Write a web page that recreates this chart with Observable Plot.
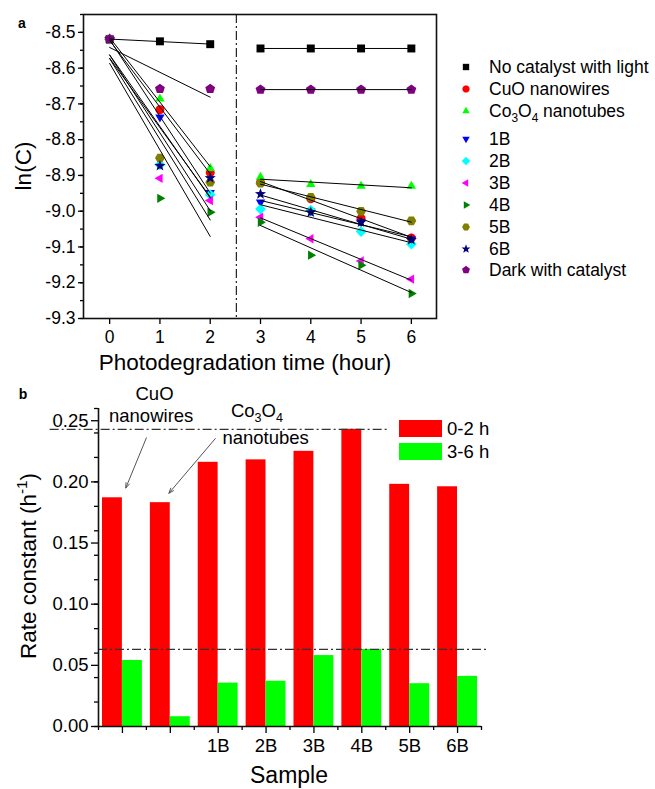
<!DOCTYPE html>
<html><head><meta charset="utf-8">
<script src="https://cdn.jsdelivr.net/npm/d3@7"></script>
<script src="https://cdn.jsdelivr.net/npm/@observablehq/plot@0.6"></script>
<style>
body{margin:0;background:#fff;}
#wrap{width:655px;height:789px;position:relative;overflow:hidden;}
#wrap svg{display:block;overflow:visible;}
</style></head><body><div id="wrap"></div>
<script>
const FONT = '"Liberation Sans", Arial, Helvetica, sans-serif';

// ---------- Panel a data ----------
const seriesNames = ["No catalyst with light","CuO nanowires","Co3O4 nanotubes","1B","2B","3B","4B","5B","6B","Dark with catalyst"];
const seriesColors = ["#000000","#ff0000","#00ff00","#0000ff","#00ffff","#ff00ff","#008000","#808000","#000080","#800080"];
const seriesSymbols = ["square","circle","triangleUp","triangleDown","diamond","triangleLeft","triangleRight","hexagon","star","pentagon"];
const timesA = [0, 1, 2];
const timesB = [3, 4, 5, 6];
const lnC_0_2h = [
  [-8.519, -8.525, -8.533],
  [-8.519, -8.716, -8.892],
  [-8.519, -8.686, -8.880],
  [-8.519, -8.737, -8.948],
  [-8.519, -8.870, -8.954],
  [-8.519, -8.908, -8.970],
  [-8.519, -8.964, -9.003],
  [-8.519, -8.851, -8.919],
  [-8.519, -8.873, -8.907],
  [-8.519, -8.658, -8.658]
];
const lnC_3_6h = [
  [-8.545, -8.545, -8.545, -8.545],
  [-8.920, -8.965, -9.020, -9.075],
  [-8.905, -8.925, -8.930, -8.930],
  [-8.975, -9.000, -9.030, -9.078],
  [-8.994, -8.997, -9.057, -9.092],
  [-9.017, -9.077, -9.139, -9.190],
  [-9.031, -9.123, -9.151, -9.230],
  [-8.922, -8.961, -9.000, -9.027],
  [-8.952, -9.003, -9.031, -9.080],
  [-8.660, -8.660, -8.660, -8.660]
];
const xTicksA = [0, 1, 2, 3, 4, 5, 6];
const yTicksA = [-9.3, -9.2, -9.1, -9.0, -8.9, -8.8, -8.7, -8.6, -8.5];
const lightSwitchTime = 2.52;

// ---------- Panel b data ----------
const samples = ["CuO nanowires","Co3O4 nanotubes","1B","2B","3B","4B","5B","6B"];
const sampleTickLabels = ["","","1B","2B","3B","4B","5B","6B"];
const rate_0_2h = [0.187, 0.183, 0.216, 0.218, 0.225, 0.243, 0.198, 0.196];
const rate_3_6h = [0.054, 0.008, 0.0355, 0.037, 0.058, 0.063, 0.035, 0.041];
const periods = ["0-2 h", "3-6 h"];
const periodColors = ["#ff0000", "#00ff00"];
const yTicksB = [0, 0.05, 0.10, 0.15, 0.20, 0.25];
const noteText = ["CuO", "nanowires", "Co3O4", "nanotubes"];
const noteX = [1.17, 1.10, 3.31, 3.49];
const noteY = [0.272, 0.254, 0.258, 0.236];
const arrowFromX = [1.0, 2.44], arrowFromY = [0.236, 0.2354];
const arrowToX = [0.57, 1.47], arrowToY = [0.195, 0.1907];

// ---------- symbols ----------
function polygon(n, a0, f) {
  return {draw(ctx, size) {
    const R = Math.sqrt(size / Math.PI) * f;
    for (let i = 0; i < n; i++) {
      const a = a0 + i * 2 * Math.PI / n, x = R * Math.cos(a), y = R * Math.sin(a);
      if (i === 0) ctx.moveTo(x, y); else ctx.lineTo(x, y);
    }
    ctx.closePath();
  }};
}
function starSym(f) {
  return {draw(ctx, size) {
    const R = Math.sqrt(size / Math.PI) * f, r = R * 0.42;
    for (let i = 0; i < 10; i++) {
      const a = -Math.PI / 2 + i * Math.PI / 5, rr = i % 2 ? r : R;
      const x = rr * Math.cos(a), y = rr * Math.sin(a);
      if (i === 0) ctx.moveTo(x, y); else ctx.lineTo(x, y);
    }
    ctx.closePath();
  }};
}
const symbolDefs = {
  square: polygon(4, Math.PI / 4, 1.25),
  circle: polygon(40, 0, 1.0),
  triangleUp: polygon(3, -Math.PI / 2, 1.2),
  triangleDown: polygon(3, Math.PI / 2, 1.2),
  triangleLeft: polygon(3, Math.PI, 1.2),
  triangleRight: polygon(3, 0, 1.2),
  diamond: polygon(4, -Math.PI / 2, 1.2),
  hexagon: polygon(6, 0, 1.1),
  pentagon: polygon(5, -Math.PI / 2, 1.15),
  star: starSym(1.3)
};

function richText(sel, parts, fs) {
  parts.forEach((p, i) => {
    const ts = sel.append("tspan").text(p.t);
    if (p.sub) ts.attr("font-size", fs * 0.68).attr("dy", fs * 0.3);
    else if (p.sup) ts.attr("font-size", fs * 0.68).attr("dy", -fs * 0.38);
    const prev = parts[i - 1];
    if (prev && prev.sub && !p.sub) ts.attr("dy", -fs * 0.3);
    if (prev && prev.sup && !p.sup) ts.attr("dy", fs * 0.38);
  });
}
const coParts = [{t: "Co"}, {t: "3", sub: true}, {t: "O"}, {t: "4", sub: true}];

// ---------- Panel a ----------
const rowsA = [];
seriesNames.forEach((s, k) => {
  timesA.forEach((t, j) => rowsA.push({series: s, k, seg: "0-2", t, v: lnC_0_2h[k][j]}));
  timesB.forEach((t, j) => rowsA.push({series: s, k, seg: "3-6", t, v: lnC_3_6h[k][j]}));
});

const svgA = Plot.plot({
  width: 655, height: 376,
  marginTop: 14, marginBottom: 58, marginLeft: 83, marginRight: 219,
  style: {fontFamily: FONT, fontSize: "17.5px", color: "#000", background: "transparent"},
  x: {domain: [-0.52, 6.5]},
  y: {domain: [-9.3, -8.45]},
  marks: [
    Plot.ruleX([lightSwitchTime], {stroke: "#222", strokeWidth: 1.2, strokeDasharray: "9,3,2,3"}),
    ...seriesNames.map((s, k) => Plot.dot(rowsA.filter(d => d.k === k), {
      x: "t", y: "v", r: 4.5, fill: seriesColors[k], symbol: symbolDefs[seriesSymbols[k]]
    })),
    Plot.linearRegressionY(rowsA, {x: "t", y: "v", z: d => d.series + "|" + d.seg, stroke: "#000", strokeWidth: 1, ci: 0}),
    Plot.axisY({ticks: d3.ticks(-9.3, -8.45, 17), tickSize: 3, tickFormat: () => "", label: null, strokeWidth: 1.3}),
    Plot.axisY({ticks: yTicksA, tickSize: 5, tickPadding: 3, tickFormat: d => d.toFixed(1), label: null, fontSize: 17.5, strokeWidth: 1.3}),
    Plot.axisX({ticks: xTicksA, tickSize: 6, tickPadding: 6, tickFormat: d => String(d), label: null, fontSize: 17.5, strokeWidth: 1.3}),
    Plot.frame({stroke: "#111", strokeWidth: 1.6})
  ]
});

// legend and titles for panel a
(function () {
  const g = d3.select(svgA).append("g").attr("font-family", FONT).attr("font-size", 17.5).attr("text-anchor", "start");
  const rowY = [67, 89, 111, 139, 161, 183, 205, 227, 249, 270];
  seriesNames.forEach((s, k) => {
    const p = d3.path();
    symbolDefs[seriesSymbols[k]].draw(p, 3.6 * 3.6 * Math.PI);
    g.append("path").attr("d", p.toString()).attr("fill", seriesColors[k])
      .attr("transform", `translate(466,${rowY[k]})`);
    const t = g.append("text").attr("x", 489).attr("y", rowY[k]).attr("dy", "0.35em")
      .attr("text-anchor", "start").attr("fill", "#000");
    if (s.startsWith("Co3O4")) richText(t, [...coParts, {t: " nanotubes"}], 17.5);
    else t.text(s);
  });
  const titles = d3.select(svgA).append("g").attr("font-family", FONT).attr("fill", "#000");
  titles.append("text").attr("x", 245).attr("y", 362).attr("dy", "0.35em").attr("text-anchor", "middle")
    .attr("font-size", 22.5).text("Photodegradation time (hour)");
  titles.append("text").attr("transform", "translate(23,166) rotate(-90)").attr("dy", "0.35em")
    .attr("text-anchor", "middle").attr("font-size", 22.5).text("ln(C)");
  titles.append("text").attr("x", 22).attr("y", 23).attr("dy", "0.35em").attr("text-anchor", "middle")
    .attr("font-size", 14).attr("font-weight", "bold").text("a");
})();

// ---------- Panel b ----------
const rowsB = samples.map((s, i) => ({s, i, r02: rate_0_2h[i], r36: rate_3_6h[i]}));
const notes = noteText.map((t, i) => ({t, x: noteX[i], y: noteY[i]}));
const arrows = arrowFromX.map((x, i) => ({x1: x, y1: arrowFromY[i], x2: arrowToX[i], y2: arrowToY[i]}));
const dash = "9,3,2,3";

const svgB = Plot.plot({
  width: 655, height: 413,
  marginTop: 32, marginBottom: 63, marginLeft: 98, marginRight: 174,
  style: {fontFamily: FONT, fontSize: "18.5px", color: "#000", background: "transparent"},
  x: {domain: [0, 8]},
  y: {domain: [0, 0.26]},
  marks: [
    Plot.rect(rowsB, {x1: d => d.i, x2: d => d.i + 1, y1: 0, y2: "r02", fill: periodColors[0], insetLeft: 4, insetRight: 24}),
    Plot.rect(rowsB, {x1: d => d.i, x2: d => d.i + 1, y1: 0, y2: "r36", fill: periodColors[1], insetLeft: 24, insetRight: 4}),
    Plot.ruleY([d3.max(rate_0_2h)], {x1: -1.01, x2: 6.03, stroke: "#333", strokeWidth: 1.2, strokeDasharray: dash}),
    Plot.ruleY([d3.max(rate_3_6h)], {x1: 0, x2: 8.13, stroke: "#333", strokeWidth: 1.2, strokeDasharray: dash}),
    Plot.axisY({ticks: d3.ticks(0, 0.26, 10), tickSize: 4, tickFormat: () => "", label: null, strokeWidth: 1.3}),
    Plot.axisY({ticks: yTicksB, tickSize: 7, tickPadding: 3, tickFormat: d => d.toFixed(2), label: null, fontSize: 18.5, strokeWidth: 1.3}),
    Plot.axisX({ticks: d3.range(0, 9), tickSize: 4, tickFormat: () => "", label: null, strokeWidth: 1.3}),
    Plot.axisX({ticks: rowsB.map(d => d.i + 0.5), tickSize: 7, tickPadding: 5, tickFormat: d => sampleTickLabels[Math.floor(d)], label: null, fontSize: 18.5, strokeWidth: 1.3}),
    Plot.ruleX([0], {stroke: "#111", strokeWidth: 1.6}),
    Plot.ruleY([0], {stroke: "#111", strokeWidth: 1.6}),
    Plot.arrow(arrows, {x1: "x1", y1: "y1", x2: "x2", y2: "y2", stroke: "#555", strokeWidth: 1, headLength: 8, headAngle: 40}),
    Plot.text(notes, {x: "x", y: "y", text: "t", fontSize: 18.5, fill: "#000"})
  ]
});

(function () {
  const svg = d3.select(svgB);
  svg.selectAll("text").each(function () {
    if (this.textContent === "Co3O4") {
      const sel = d3.select(this);
      sel.text("");
      richText(sel, coParts, 18.5);
    }
  });
  const g = svg.append("g").attr("font-family", FONT).attr("fill", "#000");
  periods.forEach((p, i) => {
    g.append("rect").attr("x", 399).attr("y", 44 + i * 23).attr("width", 43).attr("height", 17).attr("fill", periodColors[i]);
    g.append("text").attr("x", 447).attr("y", 52.5 + i * 23).attr("dy", "0.35em")
      .attr("text-anchor", "start").attr("font-size", 18.5).text(p);
  });
  g.append("text").attr("x", 289).attr("y", 399).attr("dy", "0.35em").attr("text-anchor", "middle")
    .attr("font-size", 23).text("Sample");
  const yt = g.append("text").attr("transform", "translate(28,190) rotate(-90)").attr("dy", "0.35em")
    .attr("text-anchor", "middle").attr("font-size", 22.5);
  richText(yt, [{t: "Rate constant (h"}, {t: "-1", sup: true}, {t: ")"}], 22.5);
  g.append("text").attr("x", 23).attr("y", 18).attr("dy", "0.35em").attr("text-anchor", "middle")
    .attr("font-size", 14).attr("font-weight", "bold").text("b");
})();

const wrap = document.getElementById("wrap");
wrap.appendChild(svgA);
wrap.appendChild(svgB);
</script>
</body></html>
